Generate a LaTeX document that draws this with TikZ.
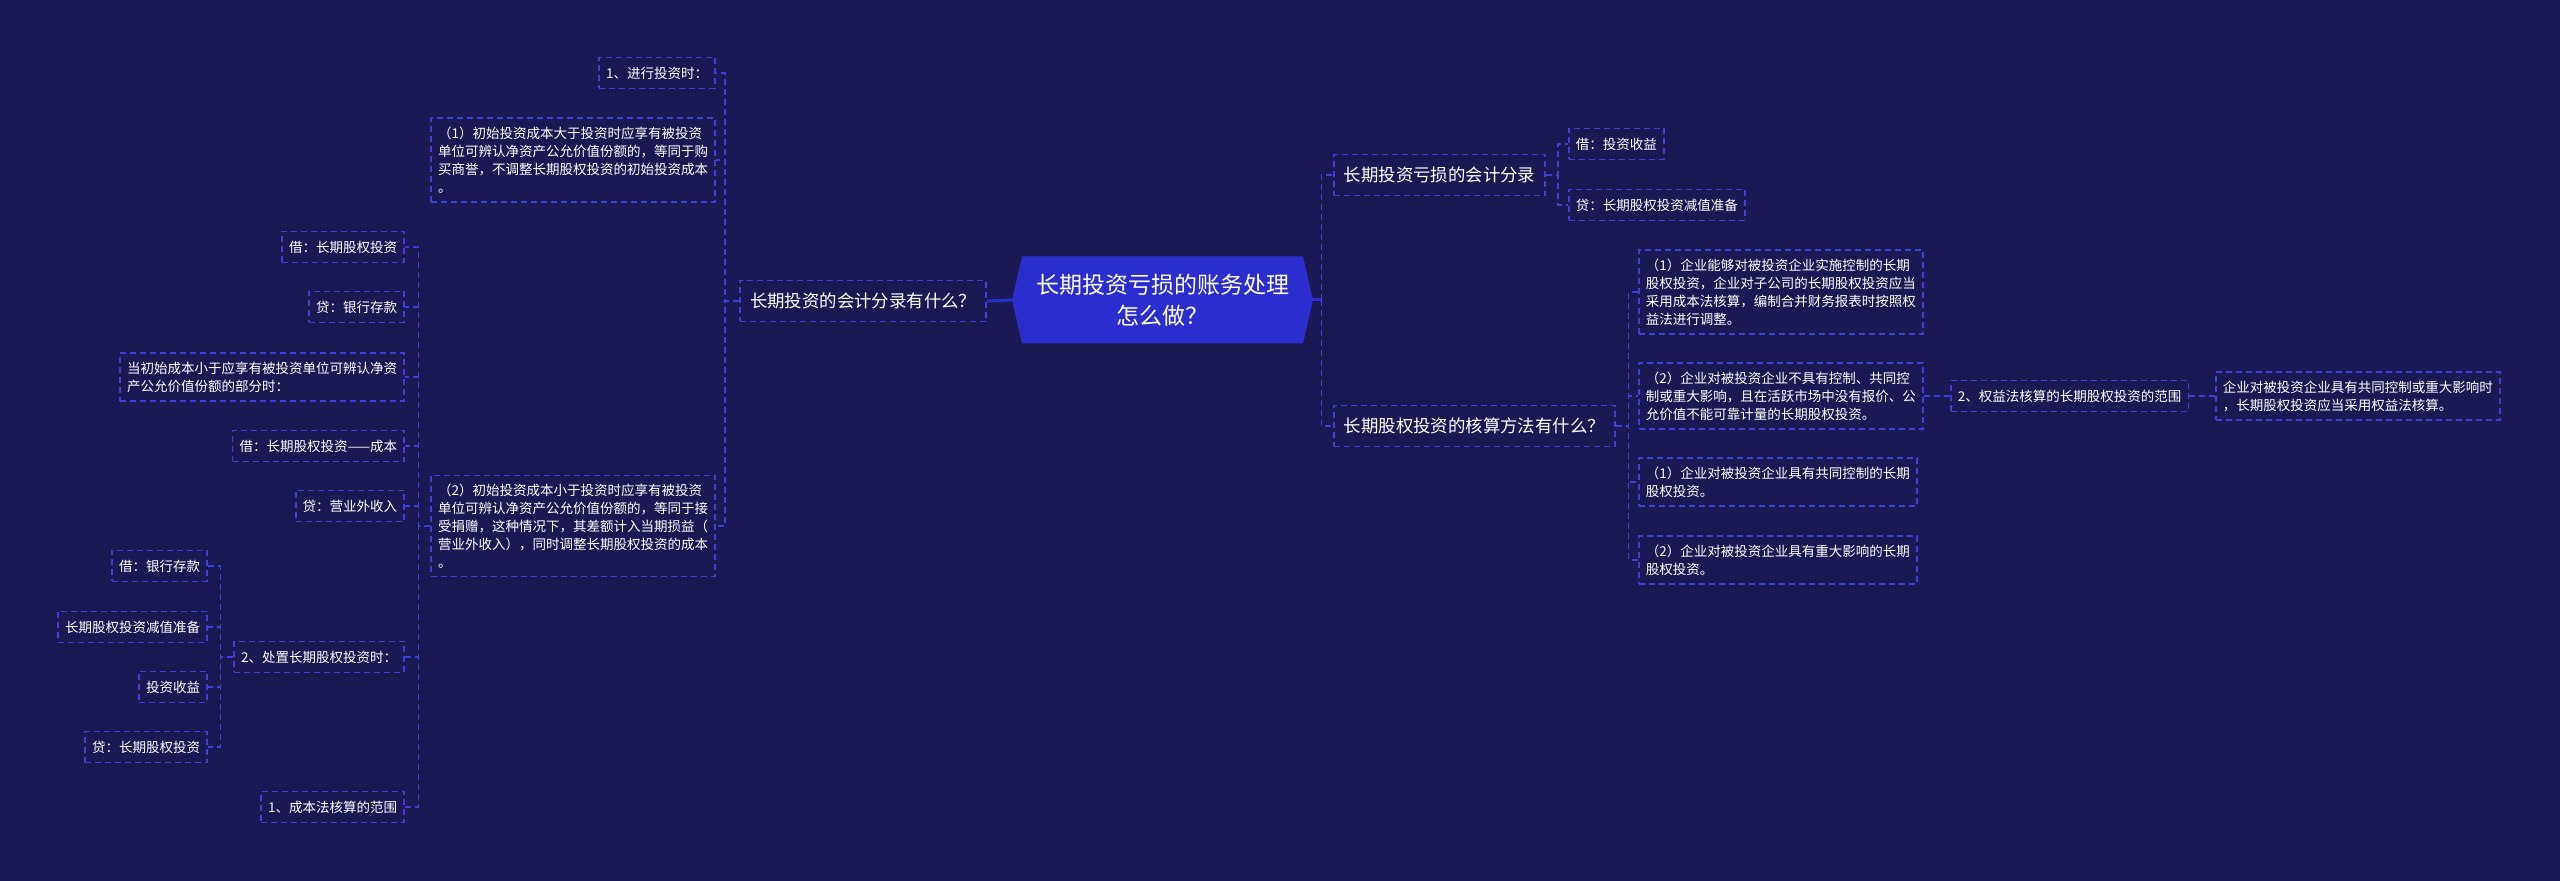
\documentclass[tikz,border=0pt]{standalone}
\usepackage{fontspec}
\setmainfont{Noto Sans CJK SC}
\usetikzlibrary{shapes.symbols}

\definecolor{bgnavy}{HTML}{1B1953}
\definecolor{rootblue}{HTML}{2B2ECF}
\definecolor{linkblue}{HTML}{3C3FD8}

\tikzset{
  topic/.style={shape=signal, signal to=east and west, signal pointer angle=154,
    fill=rootblue, text=white, align=center, inner sep=0pt,
    font=\fontsize{11.5pt}{15.5pt}\selectfont,
    minimum width=150.5pt, minimum height=43.5pt},
  branch/.style={draw=linkblue, dash pattern=on 3pt off 2pt, line width=0.8pt,
    text=white, font=\fontsize{8.7pt}{11pt}\selectfont,
    inner xsep=5pt, inner ysep=1pt, minimum height=20.5pt},
  leaf/.style={draw=linkblue, dash pattern=on 3pt off 2pt, line width=0.8pt,
    text=white, font=\fontsize{6.75pt}{9pt}\selectfont, align=left,
    inner xsep=3.5pt, inner ysep=1pt, minimum height=15.5pt},
  tall2/.style={minimum height=24pt},
  tall3/.style={minimum height=33pt},
  tall4/.style={minimum height=42pt},
  tall5/.style={minimum height=50.5pt},
  link/.style={draw=linkblue, dash pattern=on 3pt off 2pt, line width=0.8pt},
  trunk/.style={draw=rootblue, line width=1.5pt},
}

\begin{document}
\begin{tikzpicture}[x=0.5pt, y=-0.5pt]

\fill[bgnavy] (0,0) rectangle (2560,881);

% Root
\node[topic] (root) at (1162.5,300) {长期投资亏损的账务处理\\怎么做？};


% Left branch
\node[branch, anchor=east] (ask) at (987,301) {长期投资的会计分录有什么？};

\node[leaf, anchor=east] (invest) at (716,73) {1、进行投资时：};
\node[leaf, tall4, anchor=east] (over) at (716,160) {（1）初始投资成本大于投资时应享有被投资\\单位可辨认净资产公允价值份额的，等同于购\\买商誉，不调整长期股权投资的初始投资成本\\。};
\node[leaf, tall5, anchor=east] (under) at (716,526) {（2）初始投资成本小于投资时应享有被投资\\单位可辨认净资产公允价值份额的，等同于接\\受捐赠，这种情况下，其差额计入当期损益（\\营业外收入），同时调整长期股权投资的成本\\。};

\node[leaf, anchor=east] (debit1) at (405,247) {借：长期股权投资};
\node[leaf, anchor=east] (credit1) at (405,307) {贷：银行存款};
\node[leaf, tall2, anchor=east] (lowcost) at (405,377) {当初始成本小于应享有被投资单位可辨认净资\\产公允价值份额的部分时：};
\node[leaf, anchor=east] (debit2) at (405,446) {借：长期股权投资——成本};
\node[leaf, anchor=east] (credit2) at (405,506) {贷：营业外收入};
\node[leaf, anchor=east] (dispose) at (405,657) {2、处置长期股权投资时：};
\node[leaf, anchor=east] (costscope) at (405,807) {1、成本法核算的范围};

\node[leaf, anchor=east] (dbank) at (208,566) {借：银行存款};
\node[leaf, anchor=east] (impair) at (208,627) {长期股权投资减值准备};
\node[leaf, anchor=east] (income) at (208,687) {投资收益};
\node[leaf, anchor=east] (cequity) at (208,747) {贷：长期股权投资};

\draw[trunk] (root.west) -- (ask.east);
\foreach \c in {invest,over,under}
  \draw[link] (ask.west) -- ++(-14,0) |- (\c.east);
\foreach \c in {debit1,credit1,lowcost,debit2,credit2,dispose,costscope}
  \draw[link] (under.west) -- ++(-12,0) |- (\c.east);
\foreach \c in {dbank,impair,income,cequity}
  \draw[link] (dispose.west) -- ++(-13,0) |- (\c.east);


% Right branch
\node[branch, anchor=west] (loss) at (1333,175) {长期投资亏损的会计分录};
\node[branch, anchor=west] (method) at (1333,426) {长期股权投资的核算方法有什么？};

\node[leaf, anchor=west] (dincome) at (1568,144) {借：投资收益};
\node[leaf, anchor=west] (cimpair) at (1568,205) {贷：长期股权投资减值准备};

\node[leaf, tall4, anchor=west] (ctrl) at (1638,292) {（1）企业能够对被投资企业实施控制的长期\\股权投资，企业对子公司的长期股权投资应当\\采用成本法核算，编制合并财务报表时按照权\\益法进行调整。};
\node[leaf, tall3, anchor=west] (noctrl) at (1638,396) {（2）企业对被投资企业不具有控制、共同控\\制或重大影响，且在活跃市场中没有报价、公\\允价值不能可靠计量的长期股权投资。};
\node[leaf, tall2, anchor=west] (joint) at (1638,482) {（1）企业对被投资企业具有共同控制的长期\\股权投资。};
\node[leaf, tall2, anchor=west] (major) at (1638,560) {（2）企业对被投资企业具有重大影响的长期\\股权投资。};

\node[leaf, anchor=west] (equityscope) at (1950,396) {2、权益法核算的长期股权投资的范围};
\node[leaf, tall2, anchor=west] (equityuse) at (2215,396) {企业对被投资企业具有共同控制或重大影响时\\，长期股权投资应当采用权益法核算。};

\draw[trunk] (root.east) -- ++(8,0);
\foreach \c in {loss,method}
  \draw[link] (root.east) ++(8,0) |- (\c.west);
\foreach \c in {dincome,cimpair}
  \draw[link] (loss.east) -- ++(12,0) |- (\c.west);
\foreach \c in {ctrl,noctrl,joint,major}
  \draw[link] (method.east) -- ++(13,0) |- (\c.west);
\draw[link] (noctrl.east) -- (equityscope.west);
\draw[link] (equityscope.east) -- (equityuse.west);

\end{tikzpicture}
\end{document}
